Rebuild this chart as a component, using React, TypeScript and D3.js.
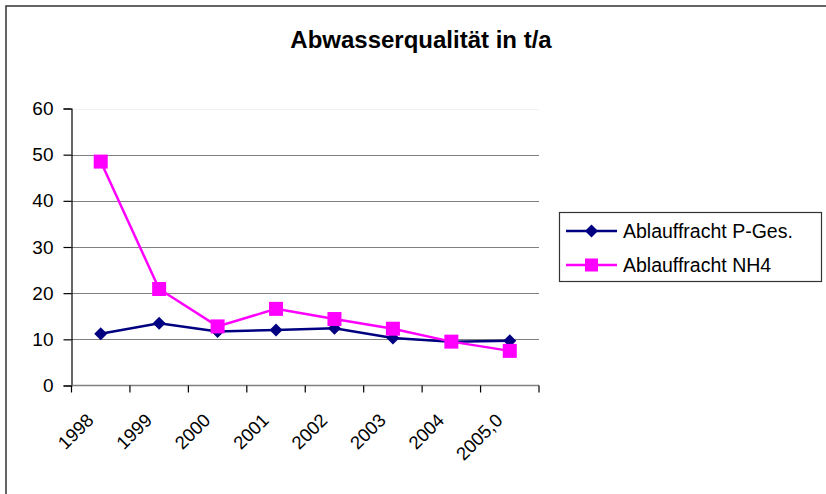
import React, { useEffect, useRef } from 'react'
import * as d3 from 'd3'

const years = ['1998', '1999', '2000', '2001', '2002', '2003', '2004', '2005,0']
const pGes = [11.2, 13.5, 11.7, 12.0, 12.4, 10.3, 9.5, 9.7]
const nh4 = [48.5, 20.9, 12.8, 16.6, 14.4, 12.3, 9.5, 7.5]
const yTicks = [0, 10, 20, 30, 40, 50, 60]
const seriesNames = ['Ablauffracht P-Ges.', 'Ablauffracht NH4']

const W = 826
const H = 494
const font = 'Arial, "Liberation Sans", sans-serif'

export default function App() {
  const ref = useRef<SVGSVGElement>(null)

  useEffect(() => {
    const svg = d3.select(ref.current)
    svg.selectAll('*').remove()

    const left = 71.5
    const right = 539
    const top = 108.5
    const bottom = 385.5

    const x = d3.scaleBand().domain(years).range([left, right])
    const y = d3.scaleLinear().domain([0, 60]).range([bottom, top])
    const cx = (d: string) => (x(d) as number) + x.bandwidth() / 2

    // outer frame
    svg.append('rect')
      .attr('x', 6).attr('y', 6)
      .attr('width', W + 10).attr('height', H + 10)
      .attr('fill', '#fff')
      .attr('stroke', '#333').attr('stroke-width', 1.5)

    svg.append('text')
      .attr('x', 421).attr('y', 48)
      .attr('text-anchor', 'middle')
      .style('font-family', font)
      .style('font-weight', 'bold')
      .style('font-size', '24px')
      .text('Abwasserqualität in t/a')

    // gridlines
    svg.append('g').selectAll('line')
      .data(yTicks.filter(t => t > 0))
      .enter().append('line')
      .attr('x1', left).attr('x2', right)
      .attr('y1', d => Math.round(y(d)) + 0.5).attr('y2', d => Math.round(y(d)) + 0.5)
      .attr('stroke', d => (d === 60 ? '#f2f2f2' : '#808080'))
      .attr('stroke-width', 1.2)

    // y axis
    const ya = svg.append('g')
      .attr('transform', `translate(${left},0)`)
      .call(d3.axisLeft(y).tickValues(yTicks).tickSize(8).tickPadding(10))
    ya.selectAll('.domain').attr('stroke', '#000').attr('stroke-width', 1.2)
    ya.selectAll('.tick line').attr('stroke', '#000').attr('stroke-width', 1.2)
    ya.selectAll('text')
      .style('font-family', font).style('font-size', '19px').attr('fill', '#000')

    // x axis
    const xa = svg.append('g')
      .attr('transform', `translate(0,${bottom})`)
    xa.append('line')
      .attr('x1', left).attr('x2', right)
      .attr('y1', 0).attr('y2', 0)
      .attr('stroke', '#808080').attr('stroke-width', 1.4)
    const edges = years.map(d => x(d) as number).concat([right])
    xa.selectAll('.tk').data(edges).enter().append('line')
      .attr('x1', d => d).attr('x2', d => d)
      .attr('y1', 0).attr('y2', 7)
      .attr('stroke', '#000').attr('stroke-width', 1.2)
    xa.selectAll('.lbl').data(years).enter().append('text')
      .attr('transform', d => `translate(${cx(d) - 6},${36}) rotate(-45)`)
      .attr('text-anchor', 'end')
      .style('font-family', font).style('font-size', '18.5px')
      .text(d => d)

    const line = d3.line<number>()
      .x((_, i) => cx(years[i]))
      .y(d => y(d))

    // P-Ges series
    svg.append('path').datum(pGes)
      .attr('d', line).attr('fill', 'none')
      .attr('stroke', '#000080').attr('stroke-width', 2.5)
    const diamond = (s: number) => `M0,${-s}L${s},0L0,${s}L${-s},0Z`
    svg.append('g').selectAll('path').data(pGes).enter().append('path')
      .attr('d', diamond(6.5))
      .attr('transform', (d, i) => `translate(${cx(years[i])},${y(d)})`)
      .attr('fill', '#000080')

    // NH4 series
    svg.append('path').datum(nh4)
      .attr('d', line).attr('fill', 'none')
      .attr('stroke', '#ff00ff').attr('stroke-width', 2.5)
    svg.append('g').selectAll('rect').data(nh4).enter().append('rect')
      .attr('x', (d, i) => cx(years[i]) - 7)
      .attr('y', d => y(d) - 7)
      .attr('width', 14).attr('height', 14)
      .attr('fill', '#ff00ff')

    // legend
    const lg = svg.append('g')
    lg.append('rect')
      .attr('x', 559.5).attr('y', 212.5)
      .attr('width', 262).attr('height', 69)
      .attr('fill', '#fff').attr('stroke', '#333').attr('stroke-width', 1.2)
    const rows = [231, 265]
    const colors = ['#000080', '#ff00ff']
    seriesNames.forEach((name, i) => {
      lg.append('line')
        .attr('x1', 566).attr('x2', 617)
        .attr('y1', rows[i]).attr('y2', rows[i])
        .attr('stroke', colors[i]).attr('stroke-width', 2.5)
      if (i === 0) {
        lg.append('path').attr('d', diamond(6.5))
          .attr('transform', `translate(591.5,${rows[i]})`)
          .attr('fill', colors[i])
      } else {
        lg.append('rect')
          .attr('x', 585).attr('y', rows[i] - 6.5)
          .attr('width', 13).attr('height', 13)
          .attr('fill', colors[i])
      }
      lg.append('text')
        .attr('x', 623).attr('y', rows[i] + 7)
        .style('font-family', font).style('font-size', '19.5px')
        .text(name)
    })
  }, [])

  return (
    <svg
      ref={ref}
      width={W}
      height={H}
      style={{ position: 'absolute', left: 0, top: 0, background: '#fff' }}
    />
  )
}
